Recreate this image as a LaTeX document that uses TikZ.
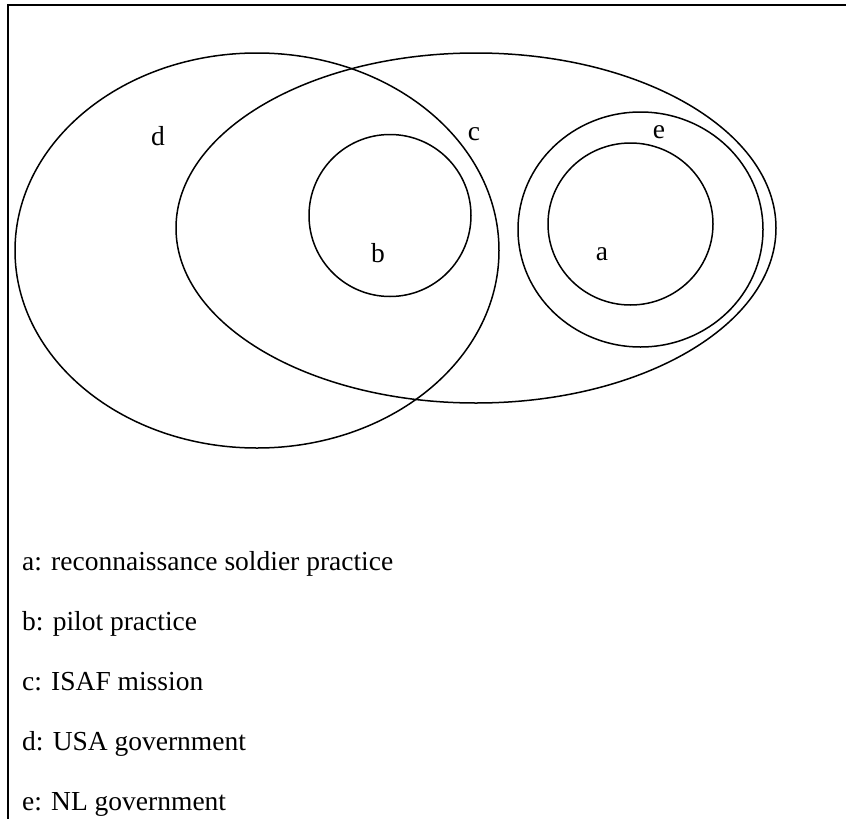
\documentclass[tikz,border=0pt]{standalone}
\usepackage{fontspec}
\setmainfont{Liberation Serif}
\begin{document}
\begin{tikzpicture}[x=1pt,y=-1pt,
  setline/.style={line width=1.5pt},
  framel/.style={line width=1.8pt},
  lbl/.style={inner sep=0pt,font=\fontsize{27.5}{33}\selectfont},
  legend/.style={inner sep=0pt,anchor=base west,font=\fontsize{27.5}{33}\selectfont}]
\useasboundingbox (0,0) rectangle (846,819);
\coordinate (fbl) at (8,819);
\coordinate (ftl) at (8,5);
\coordinate (ftr) at (846,5);
\draw[framel] (fbl) -- (ftl) -- (ftr);
% sets
\draw[setline] (257,250.5) ellipse [x radius=242, y radius=197.5];
\draw[setline] (476,228) ellipse [x radius=300, y radius=175];
\draw[setline] (390,215.5) ellipse [x radius=81, y radius=81];
\draw[setline] (640.5,229.5) ellipse [x radius=122.5, y radius=117.5];
\draw[setline] (630.5,224) ellipse [x radius=82.5, y radius=81];
% labels
\node[lbl] (ld) at (158,136) {d};
\node[lbl] (lc) at (474,134) {c};
\node[lbl] (le) at (659,132) {e};
\node[lbl] (lb) at (378,253) {b};
\node[lbl] (la) at (602,254) {a};
% legend
\node[legend] (ta) at (22,570) {a: reconnaissance soldier practice};
\node[legend] (tb) at (22,630) {b: pilot practice};
\node[legend] (tc) at (22,690) {c: ISAF mission};
\node[legend] (td) at (22,750) {d: USA government};
\node[legend] (te) at (22,810) {e: NL government};
\end{tikzpicture}
\end{document}
